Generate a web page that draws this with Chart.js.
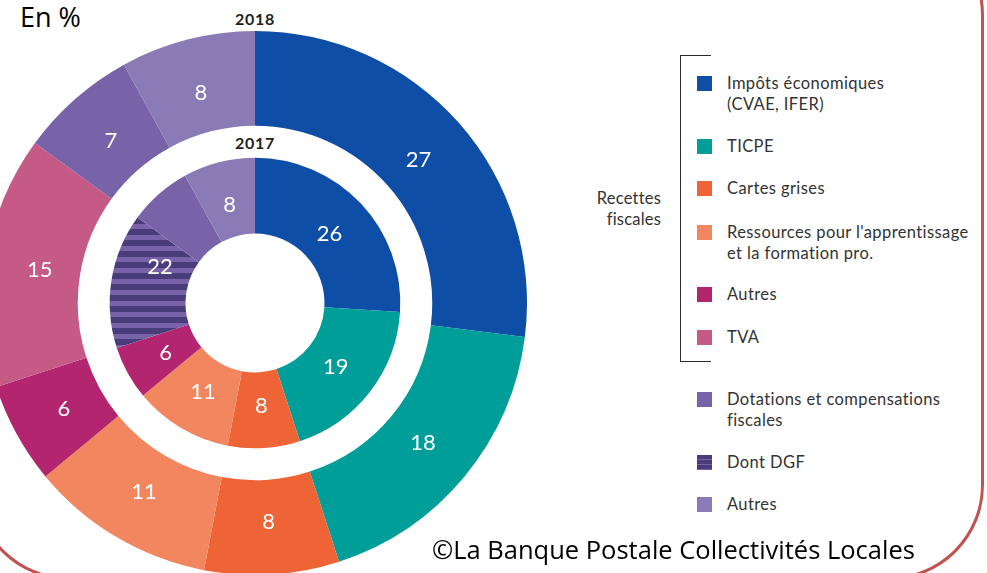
<!DOCTYPE html>
<html lang="fr">
<head>
<meta charset="utf-8">
<title>Recettes 2017 / 2018</title>
<script src="https://cdn.jsdelivr.net/npm/chart.js@4/dist/chart.umd.min.js"></script>
<style>
  html, body { margin: 0; padding: 0; background: #fff; }
  body { width: 987px; height: 573px; position: relative; overflow: hidden; font-family: "Lato", "Open Sans", sans-serif; }
  #frame {
    position: absolute; left: -26px; top: -80px; width: 1010px; height: 660px;
    border: 3px solid #c3514f; border-radius: 95px; box-sizing: border-box;
  }
  #chartBox { position: absolute; left: -17.5px; top: 30.5px; width: 544px; height: 544px; }
  .title { position: absolute; font-family: "Open Sans", sans-serif; color: #000; white-space: nowrap; }
  .year { position: absolute; width: 120px; text-align: center; font-weight: 700; font-size: 16px; letter-spacing: 0.7px; color: #222; }
  .bracket { position: absolute; left: 680px; top: 55px; width: 31px; height: 307px; border: 1.6px solid #2b2b2b; border-right: none; box-sizing: border-box; }
  .group { position: absolute; right: 326px; top: 188px; text-align: right; font-size: 16.5px; line-height: 21px; color: #333; letter-spacing: 0.2px; }
  .item { position: absolute; left: 697px; font-size: 16.5px; line-height: 21px; color: #333; letter-spacing: 0.4px; }
  .item .sw { position: absolute; left: 0; top: 3px; width: 15px; height: 15px; }
  .item .tx { position: absolute; left: 30px; top: 0; white-space: nowrap; }
</style>
</head>
<body>
<div id="frame"></div>
<div class="title" style="left:20px;top:-2px;font-size:27px;">En %</div>
<div class="year" style="left:195px;top:9px;">2018</div>
<div class="year" style="left:195px;top:133px;">2017</div>
<div id="chartBox"><canvas id="donut"></canvas></div>
<div class="bracket"></div>
<div class="group">Recettes<br>fiscales</div>
<div id="legend"></div>
<div class="title" style="left:432px;top:532px;font-size:25.5px;">©La Banque Postale Collectivités Locales</div>

<script>
// categories and values
const categories2018 = [
  "Impôts économiques (CVAE, IFER)", "TICPE", "Cartes grises",
  "Ressources pour l'apprentissage et la formation pro.", "Autres", "TVA",
  "Dotations et compensations fiscales", "Autres"
];
const values2018 = [27, 18, 8, 11, 6, 15, 7, 8];
const labels2018 = ["27", "18", "8", "11", "6", "15", "7", "8"];

// 2017: the "22" slice of dotations is split in its DGF part (striped) and the rest
const categories2017 = [
  "Impôts économiques (CVAE, IFER)", "TICPE", "Cartes grises",
  "Ressources pour l'apprentissage et la formation pro.", "Autres",
  "Dont DGF", "Dotations et compensations fiscales", "Autres"
];
const values2017 = [26, 19, 8, 11, 6, 15, 7, 8];
const labels2017 = ["26", "19", "8", "11", "6", "22", "", "8"];
const labelSpan2017 = [1, 1, 1, 1, 1, 2, 0, 1];

const legendNames = [
  ["Impôts économiques", "(CVAE, IFER)"], ["TICPE"], ["Cartes grises"],
  ["Ressources pour l'apprentissage", "et la formation pro."], ["Autres"], ["TVA"],
  ["Dotations et compensations", "fiscales"], ["Dont DGF"], ["Autres"]
];

const COLORS = {
  blue: "#0f4ea6",
  teal: "#009e98",
  orange: "#ee6437",
  salmon: "#f2865e",
  magenta: "#b3256f",
  tva: "#c65a87",
  dot: "#7863a9",
  dotDark: "#4a3b7b",
  autres: "#8a7ab6",
};

function stripes() {
  const c = document.createElement("canvas");
  c.width = 8;
  c.height = 11;
  const g = c.getContext("2d");
  g.fillStyle = COLORS.dot;
  g.fillRect(0, 0, 8, 11);
  g.fillStyle = COLORS.dotDark;
  g.fillRect(0, 0, 8, 6);
  return g.createPattern(c, "repeat");
}

const colors2018 = [COLORS.blue, COLORS.teal, COLORS.orange, COLORS.salmon, COLORS.magenta, COLORS.tva, COLORS.dot, COLORS.autres];
const colors2017 = [COLORS.blue, COLORS.teal, COLORS.orange, COLORS.salmon, COLORS.magenta, stripes(), COLORS.dot, COLORS.autres];

// legend (html)
const legendTops = [73, 136, 178, 222, 284, 327, 389, 452, 494];
const legendSwatch = [COLORS.blue, COLORS.teal, COLORS.orange, COLORS.salmon, COLORS.magenta, COLORS.tva, COLORS.dot,
  `repeating-linear-gradient(to bottom, ${COLORS.dotDark} 0 4px, ${COLORS.dot} 4px 5px)`, COLORS.autres];
document.getElementById("legend").innerHTML = legendNames
  .map((lines, i) => `
    <div class="item" style="top:${legendTops[i]}px">
      <div class="sw" style="background:${legendSwatch[i]}"></div>
      <div class="tx">${lines.join("<br>")}</div>
    </div>`)
  .join("");

const sliceLabels = {
  id: "sliceLabels",
  afterDatasetsDraw(chart) {
    const ctx = chart.ctx;
    ctx.save();
    ctx.fillStyle = "#fff";
    ctx.font = '400 22px "Lato", sans-serif';
    ctx.textAlign = "center";
    ctx.textBaseline = "middle";
    chart.data.datasets.forEach((ds, di) => {
      if (!ds.sliceText) return;
      const arcs = chart.getDatasetMeta(di).data;
      ds.sliceText.forEach((txt, i) => {
        const span = ds.span ? ds.span[i] : 1;
        if (!txt || !span) return;
        const first = arcs[i].getProps(["x", "y", "startAngle", "innerRadius", "outerRadius"], true);
        const last = arcs[i + span - 1].getProps(["endAngle"], true);
        const a = (first.startAngle + last.endAngle) / 2;
        const r = first.innerRadius + (first.outerRadius - first.innerRadius) * 0.43;
        ctx.fillText(txt, first.x + Math.cos(a) * r, first.y + Math.sin(a) * r + 1);
      });
    });
    ctx.restore();
  },
};

new Chart(document.getElementById("donut"), {
  type: "doughnut",
  data: {
    labels: categories2018,
    datasets: [
      { label: "2018", data: values2018, backgroundColor: colors2018, borderWidth: 0, weight: 95, sliceText: labels2018 },
      { label: "gap", data: [1], backgroundColor: ["rgba(0,0,0,0)"], borderWidth: 0, weight: 32 },
      { label: "2017", data: values2017, backgroundColor: colors2017, borderWidth: 0, weight: 76,
        sliceText: labels2017, span: labelSpan2017, categories: categories2017 },
    ],
  },
  options: {
    responsive: true,
    maintainAspectRatio: false,
    animation: false,
    cutout: "25.55%",
    layout: { padding: 0 },
    plugins: {
      legend: { display: false },
      tooltip: { enabled: false },
    },
  },
  plugins: [sliceLabels],
});
</script>
</body>
</html>
